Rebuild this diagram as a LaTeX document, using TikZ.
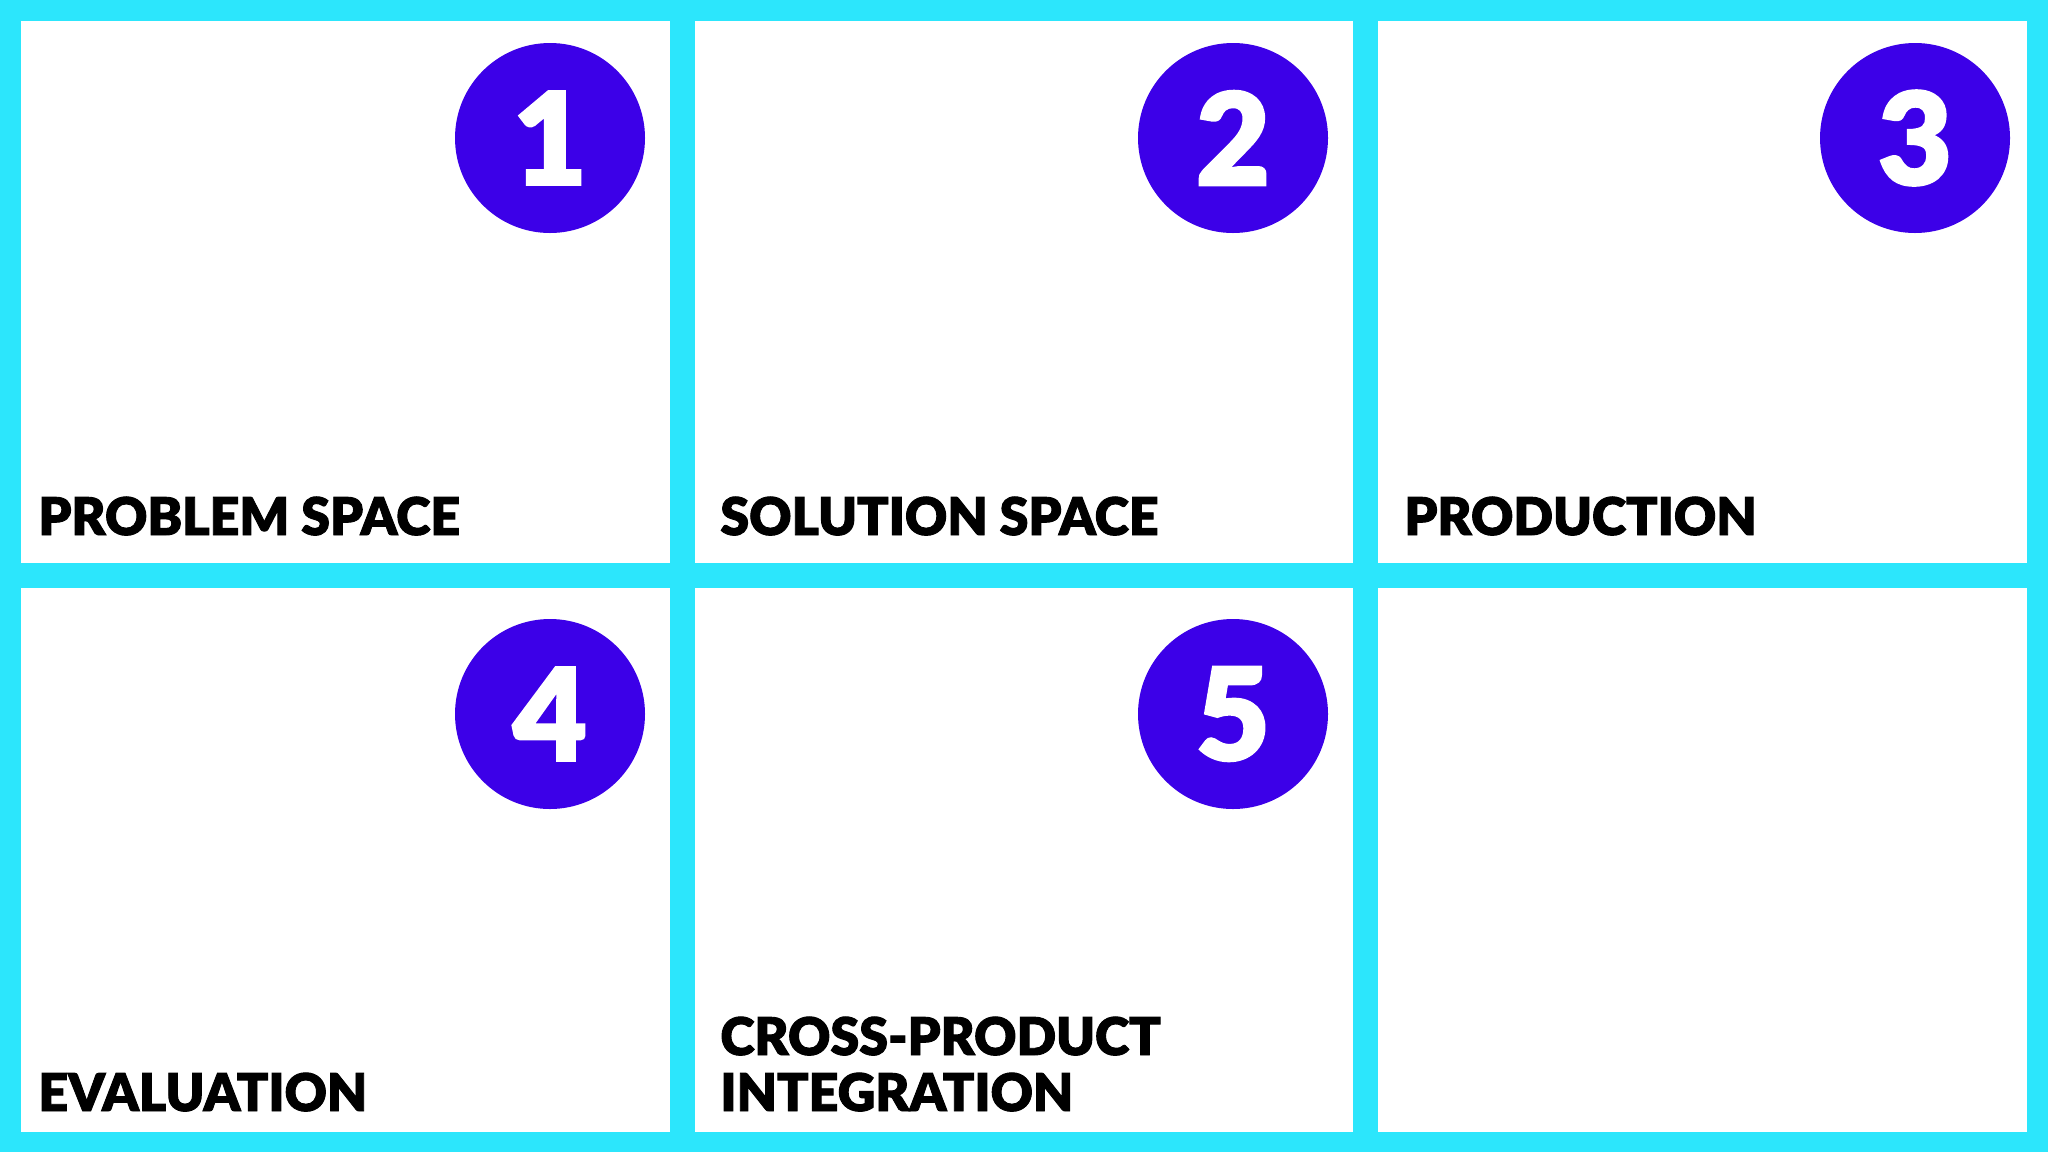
\documentclass[tikz,border=0pt]{standalone}
\usepackage{fontspec}
\newfontfamily\heavy{Lato Black}
\newfontfamily\heavier[FakeBold=1.8]{Lato Black}
\definecolor{frame}{RGB}{44,230,252}
\definecolor{disc}{RGB}{60,0,232}
\begin{document}
\begin{tikzpicture}[x=0.5pt,y=-0.5pt,
  panel/.style={fill=white,draw=none},
  badge/.style={circle,fill=disc,minimum size=95pt,inner sep=0pt,text=white,font=\heavier\fontsize{64}{64}\selectfont},
  label/.style={anchor=base west,inner sep=0pt,font=\heavier\fontsize{26}{26.5}\selectfont,align=left,text=black}]
\fill[frame] (0,0) rectangle (2048,1152);
\useasboundingbox (0,0) rectangle (2048,1152);
\fill[panel] (21,21) rectangle (670,563);
\fill[panel] (695,21) rectangle (1353,563);
\fill[panel] (1378,21) rectangle (2027,563);
\fill[panel] (21,588) rectangle (670,1132);
\fill[panel] (695,588) rectangle (1353,1132);
\fill[panel] (1378,588) rectangle (2027,1132);
\node[badge] (b1) at (550,138) {1};
\node[badge] (b2) at (1233,138) {2};
\node[badge] (b3) at (1915,138) {3};
\node[badge] (b4) at (550,714) {4};
\node[badge] (b5) at (1233,714) {5};
\node[label] (l1) at (38,535) {PROBLEM SPACE};
\node[label] (l2) at (720,535) {SOLUTION SPACE};
\node[label] (l3) at (1404,535) {PRODUCTION};
\node[label] (l4) at (38,1111) {EVALUATION};
\node[label] (l5a) at (720,1055) {CROSS-PRODUCT};
\node[label] (l5b) at (720,1111) {INTEGRATION};
\end{tikzpicture}
\end{document}
